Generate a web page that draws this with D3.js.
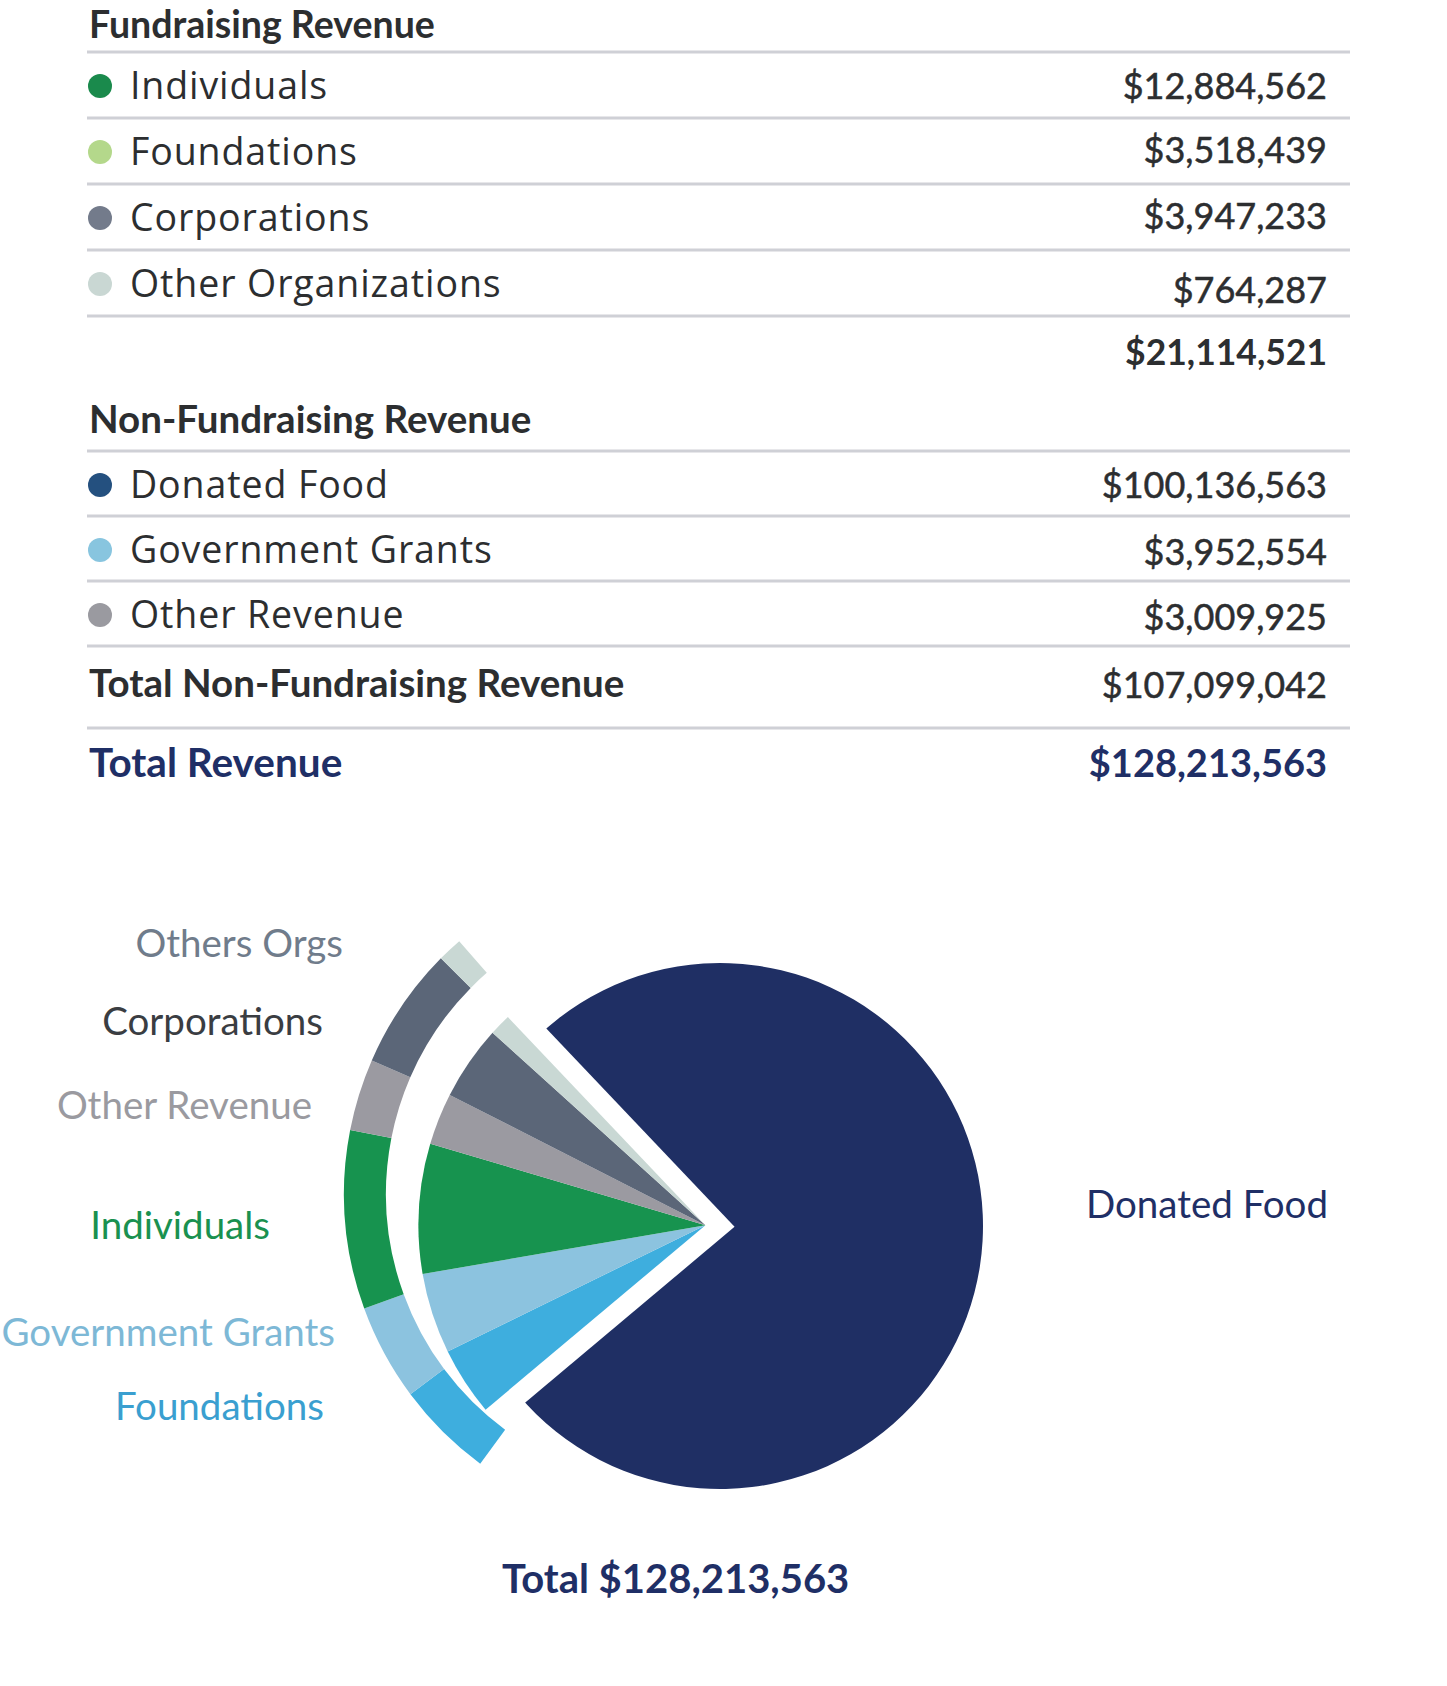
<!DOCTYPE html>
<html>
<head>
<meta charset="utf-8">
<script src="https://cdn.jsdelivr.net/npm/d3@7"></script>
<style>
  html, body { margin: 0; padding: 0; background: #ffffff; }
  svg { display: block; }
</style>
</head>
<body>
<div id="chart"></div>
<script>
// ---------------- DATA ----------------
const fundCategories = ["Individuals", "Foundations", "Corporations", "Other Organizations"];
const fundValues = [12884562, 3518439, 3947233, 764287];

const nonFundCategories = ["Donated Food", "Government Grants", "Other Revenue"];
const nonFundValues = [100136563, 3952554, 3009925];

// Pie as drawn in the picture (slice sizes in degrees)
const splitCategories = ["Donated Food", "All other sources"];
const splitDeg = [273.5, 86.5];
const fanCategories = ["Foundations", "Government Grants", "Individuals", "Other Revenue", "Corporations", "Others Orgs"];
const fanDeg = [13.9, 16.3, 26.3, 10.5, 15.1, 4.4];
const ringDeg = [16.9, 16.7, 31.0, 12.5, 21.2, 4.3];

// ---------------- STYLES / LAYOUT ----------------
const fundDotColors = ["#1a8a4c", "#b4d88b", "#737b8b", "#c9d7d3"];
const nonFundDotColors = ["#24507f", "#88c5df", "#9a9aa0"];
const sliceColors = {
  "Foundations": "#3eaede",
  "Government Grants": "#8cc3df",
  "Individuals": "#17934f",
  "Other Revenue": "#9b9aa1",
  "Corporations": "#5b6678",
  "Others Orgs": "#c9d8d4"
};
const labelColors = {
  "Others Orgs": "#707c8b",
  "Corporations": "#3a3d42",
  "Other Revenue": "#9a9aa0",
  "Individuals": "#1a9150",
  "Government Grants": "#7db8d6",
  "Foundations": "#3a9fd0"
};
const labelPos = { // right edge x, baseline y
  "Others Orgs": [343, 957],
  "Corporations": [323, 1035],
  "Other Revenue": [312, 1119],
  "Individuals": [270, 1239],
  "Government Grants": [335, 1346],
  "Foundations": [324, 1420]
};
const navy = "#1f2f66";
const ink = "#2c2e30";
const ruleColor = "#cfd0d6";

const W = 1447, H = 1686;
const xLeft = 87, xRight = 1350, xValue = 1327, xDot = 100, xLabel = 130;
const fmt = d3.format("$,");

const svg = d3.select("#chart").append("svg")
  .attr("width", W).attr("height", H)
  .attr("viewBox", `0 0 ${W} ${H}`);
svg.append("rect").attr("width", W).attr("height", H).attr("fill", "#fff");

const rowFont = "'Open Sans', 'Noto Sans', sans-serif";
const numFont = "Lato, 'Open Sans', sans-serif";

function rule(y) {
  svg.append("line").attr("x1", xLeft).attr("x2", xRight)
    .attr("y1", y).attr("y2", y)
    .attr("stroke", ruleColor).attr("stroke-width", 3);
}

function heading(text, y, size, color) {
  svg.append("text").attr("x", xLeft + 2).attr("y", y)
    .attr("font-family", numFont).attr("font-weight", 700)
    .attr("font-size", size).attr("fill", color).text(text);
}

function valueText(v, y, size, weight, color) {
  svg.append("text").attr("x", xValue).attr("y", y)
    .attr("text-anchor", "end")
    .attr("font-family", numFont).attr("font-weight", weight)
    .attr("font-size", size).attr("fill", color)
    .attr("stroke", weight < 700 ? color : "none").attr("stroke-width", 0.5)
    .text(fmt(v));
}

function section(cats, vals, colors, rule0, step, valueDy) {
  rule(rule0);
  cats.forEach((c, i) => {
    const base = rule0 + 47 + i * step;
    svg.append("circle").attr("cx", xDot).attr("cy", base - 13).attr("r", 12)
      .attr("fill", colors[i]);
    svg.append("text").attr("x", xLabel).attr("y", base)
      .attr("font-family", rowFont).attr("font-size", 37.5)
      .attr("letter-spacing", 0.9)
      .attr("fill", ink).text(c);
    valueText(vals[i], base + (valueDy[i] || 0), 36, 400, ink);
    rule(rule0 + (i + 1) * step);
  });
}

// ---------------- TABLE ----------------
heading("Fundraising Revenue", 38, 37.5, ink);
section(fundCategories, fundValues, fundDotColors, 52, 66, [0, -2, -2, 6]);
valueText(d3.sum(fundValues), 365, 35.5, 700, ink);

heading("Non-Fundraising Revenue", 433, 38.5, ink);
section(nonFundCategories, nonFundValues, nonFundDotColors, 451, 65, [0, 2, 2]);
heading("Total Non-Fundraising Revenue", 697, 38.5, ink);
valueText(d3.sum(nonFundValues), 698, 36, 400, ink);
rule(728);
heading("Total Revenue", 777, 40.5, navy);
valueText(d3.sum(fundValues) + d3.sum(nonFundValues), 777, 38, 700, navy);

// ---------------- PIE ----------------
const rad = Math.PI / 180;
const C = [720, 1226];      // centre of the big circle
const R = [679, 1194];      // centre of the outer ring
const halfGap = 10;
const bigR = 263, fanR = 287, ringIn = 293, ringOut = 335;

const split = d3.pie().sort(null)
  .startAngle(-43.5 * rad).endAngle(-43.5 * rad + 2 * Math.PI)
  .value(d => d)(splitDeg);
const donated = split[0], rest = split[1];
const restSpan = rest.endAngle - rest.startAngle;
const restMid = (rest.startAngle + rest.endAngle) / 2;
const shift = halfGap / Math.sin(restSpan / 2);
const ux = Math.sin(restMid), uy = -Math.cos(restMid);
const D = [C[0] - shift * ux, C[1] - shift * uy]; // notch vertex of the big slice
const I = [C[0] + shift * ux, C[1] + shift * uy]; // apex of the fan

const pieG = svg.append("g");
// big slice
pieG.append("path")
  .attr("transform", `translate(${C[0]},${C[1]})`)
  .attr("d", d3.arc().innerRadius(0).outerRadius(bigR)(donated))
  .attr("fill", "#1f2f64");
// gap wedge (background colour) that cuts the notch
pieG.append("path")
  .attr("transform", `translate(${D[0]},${D[1]})`)
  .attr("d", d3.arc().innerRadius(0).outerRadius(bigR + 16)
    ({startAngle: rest.startAngle, endAngle: rest.endAngle}))
  .attr("fill", "#fff");

// fan
const fan = d3.pie().sort(null)
  .startAngle(rest.startAngle).endAngle(rest.endAngle)
  .value(d => d)(fanDeg);
pieG.append("g").attr("transform", `translate(${I[0]},${I[1]})`)
  .selectAll("path").data(fan).join("path")
  .attr("d", d3.arc().innerRadius(0).outerRadius(fanR))
  .attr("fill", (d, i) => sliceColors[fanCategories[i]]);

// outer ring
const ring = d3.pie().sort(null)
  .startAngle(-143.6 * rad).endAngle(-41 * rad)
  .value(d => d)(ringDeg);
pieG.append("g").attr("transform", `translate(${R[0]},${R[1]})`)
  .selectAll("path").data(ring).join("path")
  .attr("d", d3.arc().innerRadius(ringIn).outerRadius(ringOut))
  .attr("fill", (d, i) => sliceColors[fanCategories[i]]);

// labels
fanCategories.forEach(c => {
  svg.append("text").attr("x", labelPos[c][0]).attr("y", labelPos[c][1])
    .attr("text-anchor", "end")
    .attr("font-family", numFont).attr("font-size", 38.5)
    .attr("fill", labelColors[c]).text(c);
});
svg.append("text").attr("x", 1086).attr("y", 1218)
  .attr("font-family", numFont).attr("font-size", 38.5)
  .attr("fill", navy).text(splitCategories[0]);
svg.append("text").attr("x", 502).attr("y", 1593)
  .attr("font-family", numFont).attr("font-weight", 700).attr("font-size", 40)
  .attr("fill", navy).text("Total " + fmt(d3.sum(fundValues) + d3.sum(nonFundValues)));
</script>
</body>
</html>
